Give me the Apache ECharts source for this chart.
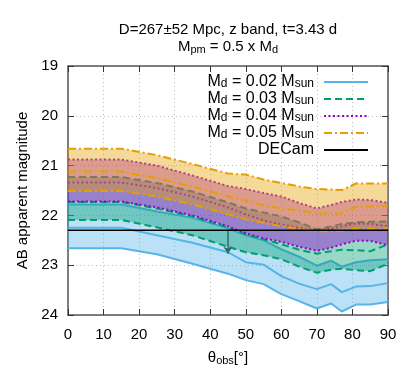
<!DOCTYPE html>
<html>
<head>
<meta charset="utf-8">
<script src="https://cdn.jsdelivr.net/npm/echarts@6/dist/echarts.min.js"></script>
<style>
  html, body { margin: 0; padding: 0; background: #fff; }
  #main { width: 415px; height: 384px; }
</style>
</head>
<body>
<div id="main"></div>
<script>
// viewing angles (deg)
var angles = [0, 15, 25, 35, 45, 50, 55, 60, 65, 70, 74, 77, 81, 85, 90];

// Md = 0.02 Msun : bright edge / central / faint edge (AB mag)
var md02Bright = [21.78, 21.78, 21.92, 22.05, 22.26, 22.40, 22.50, 22.68, 22.83, 23.01, 22.91, 23.03, 22.94, 22.90, 22.88];
var md02Mid    = [22.25, 22.25, 22.40, 22.55, 22.74, 22.94, 22.99, 23.22, 23.37, 23.48, 23.38, 23.54, 23.43, 23.42, 23.36];
var md02Faint  = [22.66, 22.66, 22.78, 22.97, 23.17, 23.30, 23.38, 23.58, 23.72, 23.87, 23.77, 23.93, 23.79, 23.79, 23.74];

// Md = 0.03 Msun
var md03Bright = [21.23, 21.23, 21.35, 21.52, 21.74, 21.86, 21.94, 22.02, 22.14, 22.28, 22.22, 22.17, 22.14, 22.13, 22.12];
var md03Mid    = [21.73, 21.73, 21.86, 22.02, 22.24, 22.38, 22.48, 22.58, 22.69, 22.77, 22.72, 22.69, 22.70, 22.72, 22.58];
var md03Faint  = [22.09, 22.09, 22.24, 22.40, 22.63, 22.74, 22.80, 22.88, 23.03, 23.15, 23.09, 23.07, 23.10, 23.12, 22.97];

// Md = 0.04 Msun
var md04Bright = [20.88, 20.88, 21.00, 21.20, 21.41, 21.47, 21.55, 21.62, 21.75, 21.86, 21.79, 21.73, 21.68, 21.69, 21.75];
var md04Mid    = [21.34, 21.34, 21.45, 21.62, 21.84, 21.98, 22.10, 22.18, 22.25, 22.30, 22.27, 22.22, 22.16, 22.17, 22.22];
var md04Faint  = [21.72, 21.72, 21.84, 22.00, 22.22, 22.36, 22.46, 22.53, 22.63, 22.71, 22.65, 22.58, 22.51, 22.51, 22.60];

// Md = 0.05 Msun
var md05Bright = [20.66, 20.66, 20.79, 20.97, 21.16, 21.18, 21.28, 21.35, 21.42, 21.47, 21.48, 21.49, 21.36, 21.36, 21.36];
var md05Mid    = [21.12, 21.12, 21.25, 21.42, 21.62, 21.70, 21.80, 21.86, 21.90, 21.96, 21.96, 21.96, 21.83, 21.82, 21.81];
var md05Faint  = [21.51, 21.51, 21.62, 21.78, 21.98, 22.08, 22.15, 22.22, 22.27, 22.32, 22.32, 22.31, 22.26, 22.26, 22.25];

// DECam limit and the arrow below it
var decamX = [0, 90];
var decamMag = [22.3, 22.3];
var arrowX = 45;
var arrowFrom = 22.3;
var arrowTo = 22.77;

var FONT = "'Liberation Sans', Arial, sans-serif";

function pairs(xs, ys) {
  return xs.map(function (x, i) { return [x, ys[i]]; });
}

var models = [
  { key: 'm02', name: 'Md = 0.02 Msun', label: '0.02', color: '#56b4e9', dash: 'solid',      bright: md02Bright, mid: md02Mid, faint: md02Faint },
  { key: 'm03', name: 'Md = 0.03 Msun', label: '0.03', color: '#009e73', dash: [7, 4],       bright: md03Bright, mid: md03Mid, faint: md03Faint },
  { key: 'm04', name: 'Md = 0.04 Msun', label: '0.04', color: '#9400d3', dash: [2, 2.5],     bright: md04Bright, mid: md04Mid, faint: md04Faint },
  { key: 'm05', name: 'Md = 0.05 Msun', label: '0.05', color: '#e69f00', dash: [8, 3, 2, 3], bright: md05Bright, mid: md05Mid, faint: md05Faint }
];

// one polygon per band: along the bright edge, back along the faint edge
function bandRenderer(color) {
  return function (params, api) {
    if (params.dataIndexInside !== 0) return null;
    var n = angles.length;
    var top = [], bottom = [];
    for (var i = 0; i < n; i++) {
      top.push(api.coord([api.value(0, i), api.value(1, i)]));
      bottom.unshift(api.coord([api.value(0, i), api.value(2, i)]));
    }
    return {
      type: 'polygon',
      shape: { points: top.concat(bottom) },
      style: { fill: color, opacity: 0.4 }
    };
  };
}

// each model: fill, then its lines; the next model's fill goes over them
var series = [];
models.forEach(function (m, k) {
  series.push({
    type: 'custom', name: m.key + '_band', silent: true, z: 2 * k + 1,
    renderItem: bandRenderer(m.color),
    encode: { x: 0, y: [1, 2] },
    data: angles.map(function (a, i) { return [a, m.bright[i], m.faint[i]]; })
  });
  [['_hi', m.bright], ['', m.mid], ['_lo', m.faint]].forEach(function (p) {
    series.push({
      type: 'line', name: p[0] ? m.key + p[0] : m.name, silent: true, z: 2 * k + 2,
      data: pairs(angles, p[1]), symbol: 'none',
      lineStyle: { color: m.color, width: 2, type: m.dash }
    });
  });
});

series.push({
  type: 'line', name: 'DECam', silent: true, z: 20,
  data: pairs(decamX, decamMag), symbol: 'none',
  lineStyle: { color: '#000', width: 1.5 },
  markLine: {
    silent: true,
    symbol: ['none', 'arrow'],
    symbolSize: 7,
    label: { show: false },
    lineStyle: { type: 'solid', color: '#2f6b6a', width: 1.5 },
    data: [[{ coord: [arrowX, arrowFrom] }, { coord: [arrowX, arrowTo] }]]
  }
});

var subRich = {
  n: { fontSize: 15, fontFamily: FONT, fontWeight: 'normal', color: '#000', lineHeight: 17 },
  s: { fontSize: 11, fontFamily: FONT, fontWeight: 'normal', color: '#000', lineHeight: 6, verticalAlign: 'bottom' }
};
var legendRich = {
  n: { fontSize: 16, fontFamily: FONT, color: '#000', lineHeight: 16 },
  s: { fontSize: 12, fontFamily: FONT, color: '#000', lineHeight: 6, verticalAlign: 'bottom' }
};

var axisLineStyle = { color: '#555', width: 1.5 };
var tickStyle = { inside: true, length: 6, lineStyle: { color: '#333', width: 1 } };
var gridLine = { show: true, lineStyle: { color: '#bdbdbd', width: 1, type: [1, 3] } };

var option = {
  animation: false,
  backgroundColor: '#fff',
  title: {
    left: 228, top: 21, padding: 0, textAlign: 'center',
    text: '{n|D=267±52 Mpc, z band, t=3.43 d}\n{n|M}{s|pm}{n| = 0.5 x M}{s|d}',
    textStyle: { fontWeight: 'normal', rich: subRich }
  },
  grid: { left: 68, right: 27, top: 66, bottom: 69 },
  legend: {
    data: models.map(function (m) { return m.name; }).concat(['DECam']),
    orient: 'vertical', align: 'right', right: 46, top: 74, padding: 0,
    itemWidth: 44, itemHeight: 10, itemGap: 1,
    itemStyle: { opacity: 0 },
    textStyle: { padding: [0, 5, 0, 0], rich: legendRich },
    formatter: function (name) {
      if (name === 'DECam') return '{n|DECam}';
      var m = models.filter(function (x) { return x.name === name; })[0];
      return '{n|M}{s|d}{n| = ' + m.label + ' M}{s|sun}';
    }
  },
  xAxis: [{
    type: 'value', min: 0, max: 90, interval: 10, position: 'bottom',
    axisLine: { onZero: false, lineStyle: axisLineStyle },
    axisTick: tickStyle,
    axisLabel: { fontSize: 15, fontFamily: FONT, color: '#000', margin: 12 },
    splitLine: gridLine,
    name: '{n|θ}{s|obs}{n|[°]}', nameLocation: 'middle', nameGap: 34,
    nameTextStyle: { rich: subRich }
  }, {
    type: 'value', min: 0, max: 90, interval: 10, position: 'top',
    axisLine: { onZero: false, lineStyle: axisLineStyle },
    axisTick: tickStyle, axisLabel: { show: false }, splitLine: { show: false }
  }],
  yAxis: [{
    type: 'value', min: 19, max: 24, interval: 1, inverse: true, position: 'left',
    axisLine: { show: true, onZero: false, lineStyle: axisLineStyle },
    axisTick: { show: true, inside: true, length: 6, lineStyle: { color: '#333', width: 1 } },
    axisLabel: { fontSize: 15, fontFamily: FONT, color: '#000', margin: 10 },
    splitLine: gridLine,
    name: 'AB apparent magnitude', nameLocation: 'middle', nameGap: 38,
    nameTextStyle: { fontSize: 15, fontFamily: FONT, color: '#000' }
  }, {
    type: 'value', min: 19, max: 24, interval: 1, inverse: true, position: 'right',
    axisLine: { show: true, onZero: false, lineStyle: axisLineStyle },
    axisTick: { show: true, inside: true, length: 6, lineStyle: { color: '#333', width: 1 } },
    axisLabel: { show: false }, splitLine: { show: false }
  }],
  series: series
};

var chart = echarts.init(document.getElementById('main'), null, { renderer: 'canvas' });
chart.setOption(option);
</script>
</body>
</html>
